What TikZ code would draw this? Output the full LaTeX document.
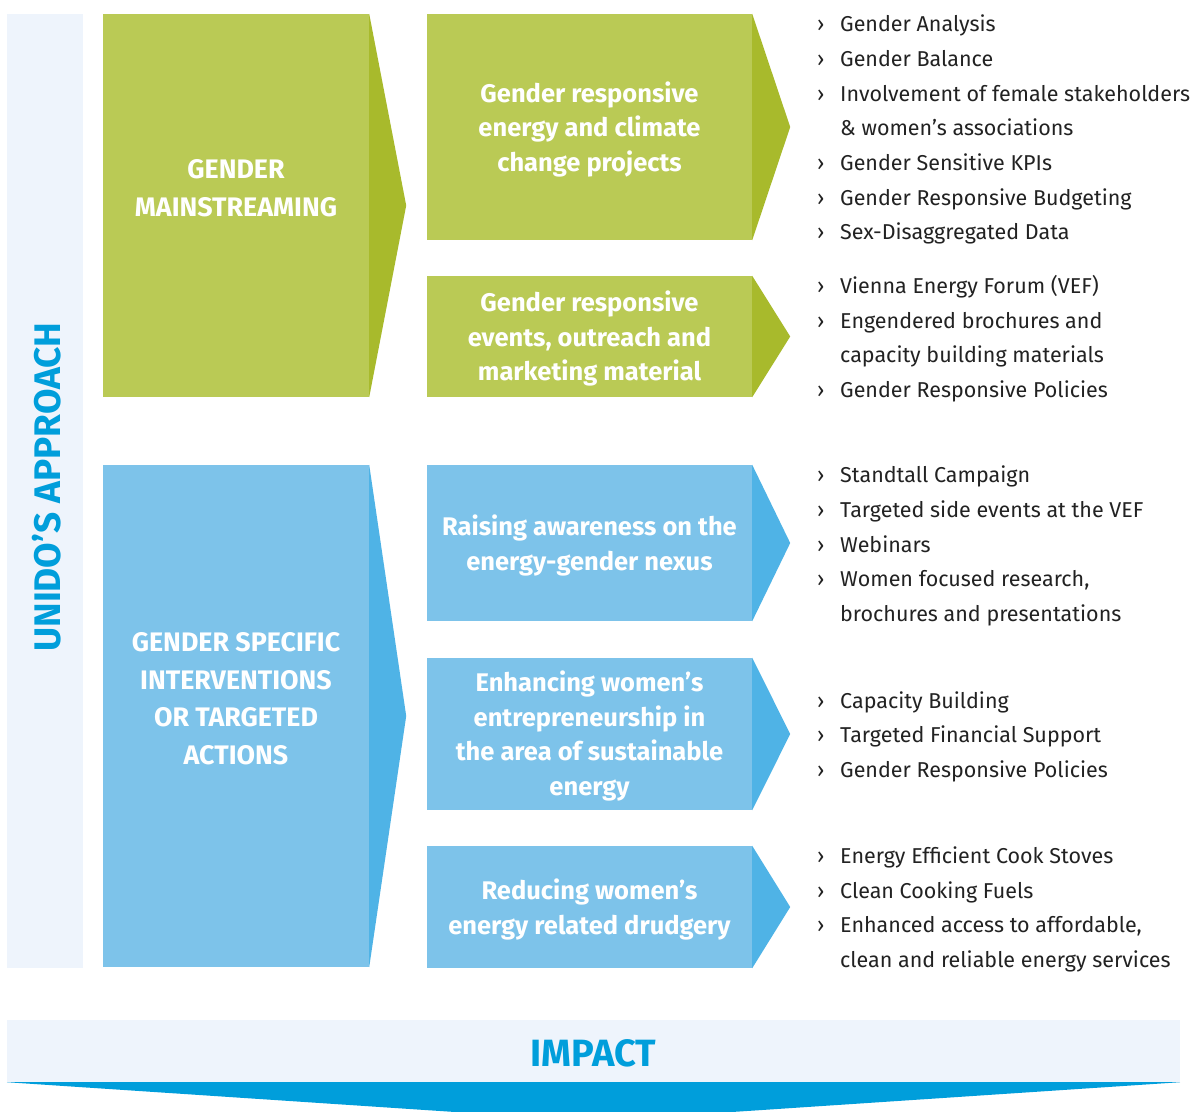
\documentclass[tikz,border=0pt]{standalone}
\usepackage{fontspec}
\setmainfont{Fira Sans}
\definecolor{panelbg}{HTML}{EEF4FC}
\definecolor{gbox}{HTML}{BACA55}
\definecolor{gtri}{HTML}{A8BA2C}
\definecolor{bbox}{HTML}{7DC3EA}
\definecolor{btri}{HTML}{4FB3E6}
\definecolor{unblue}{HTML}{009EDB}
\definecolor{txtgray}{HTML}{222222}
\tikzset{
  panelbox/.style={fill=panelbg, draw=none, inner sep=0},
  gbx/.style={fill=gbox, draw=none, inner sep=0},
  bbx/.style={fill=bbox, draw=none, inner sep=0},
  boxtxt/.style={font=\bfseries\fontsize{25.5}{34.5}\selectfont, text=white, align=center, inner sep=0},
  bigtxt/.style={font=\bfseries\fontsize{26.8}{37.5}\selectfont, text=white, align=center, inner sep=0},
  listtxt/.style={font=\fontsize{21.5}{25}\selectfont, text=txtgray, inner sep=0, anchor=base west},
  titletxt/.style={font=\bfseries\fontsize{37}{40}\selectfont, text=unblue, inner sep=0},
}
\begin{document}
\begin{tikzpicture}[x=1pt,y=-1pt]
\useasboundingbox (0,0) rectangle (1190,1111);
\clip (0,0) rectangle (1190,1111);
\fill[white] (0,0) rectangle (1190,1111);

% left panel
\node[panelbox, minimum width=76pt, minimum height=954pt] (panel) at (45,491) {};
\node[titletxt, rotate=90] (unido) at (46.5,487) {UNIDO’S APPROACH};

% big boxes
\node[gbx, minimum width=266pt, minimum height=383pt] (gm) at (236,205.5) {};
\fill[gtri] (gm.north east) -- ([xshift=37pt]gm.east) -- (gm.south east) -- cycle;
\node[bigtxt] (gmt) at (236,188) {GENDER\\MAINSTREAMING};

\node[bbx, minimum width=266pt, minimum height=502pt] (bs) at (236,716) {};
\fill[btri] (bs.north east) -- ([xshift=37pt]bs.east) -- (bs.south east) -- cycle;
\node[bigtxt] (bst) at (236,698.5) {GENDER SPECIFIC\\INTERVENTIONS\\OR TARGETED\\ACTIONS};

% small boxes
\node[gbx, minimum width=325pt, minimum height=226pt] (g1) at (589.5,127) {};
\fill[gtri] (g1.north east) -- ([xshift=38pt]g1.east) -- (g1.south east) -- cycle;
\node[boxtxt] (g1t) at (589.5,129) {Gender responsive\\energy and climate\\change projects};

\node[gbx, minimum width=325pt, minimum height=121pt] (g2) at (589.5,336.5) {};
\fill[gtri] (g2.north east) -- ([xshift=38pt]g2.east) -- (g2.south east) -- cycle;
\node[boxtxt] (g2t) at (589.5,338.5) {Gender responsive\\events, outreach and\\marketing material};

\node[bbx, minimum width=325pt, minimum height=156pt] (b1) at (589.5,543) {};
\fill[btri] (b1.north east) -- ([xshift=38pt]b1.east) -- (b1.south east) -- cycle;
\node[boxtxt] (b1t) at (589.5,545.5) {Raising awareness on the\\energy-gender nexus};

\node[bbx, minimum width=325pt, minimum height=152pt] (b2) at (589.5,734) {};
\fill[btri] (b2.north east) -- ([xshift=38pt]b2.east) -- (b2.south east) -- cycle;
\node[boxtxt] (b2t) at (589.5,736) {Enhancing women’s\\entrepreneurship in\\the area of sustainable\\energy};

\node[bbx, minimum width=325pt, minimum height=122pt] (b3) at (589.5,907) {};
\fill[btri] (b3.north east) -- ([xshift=38pt]b3.east) -- (b3.south east) -- cycle;
\node[boxtxt] (b3t) at (589.5,909.5) {Reducing women’s\\energy related drudgery};

% lists
\foreach \y/\b/\t [count=\i] in {
  31/1/{Gender Analysis},
  66/1/{Gender Balance},
  101/1/{Involvement of female stakeholders},
  135/0/{\& women’s associations},
  170/1/{Gender Sensitive KPIs},
  205/1/{Gender Responsive Budgeting},
  239/1/{Sex-Disaggregated Data},
  293/1/{Vienna Energy Forum (VEF)},
  328/1/{Engendered brochures and},
  362/0/{capacity building materials},
  397/1/{Gender Responsive Policies},
  482/1/{Standtall Campaign},
  517/1/{Targeted side events at the VEF},
  552/1/{Webinars},
  586/1/{Women focused research,},
  621/0/{brochures and presentations},
  708/1/{Capacity Building},
  742/1/{Targeted Financial Support},
  777/1/{Gender Responsive Policies},
  863/1/{Energy Efficient Cook Stoves},
  898/1/{Clean Cooking Fuels},
  932/1/{Enhanced access to affordable,},
  967/0/{clean and reliable energy services}} {
  \node[listtxt] (item\i) at (840,\y) {\t};
  \ifnum\b=1
    \node[listtxt] (bul\i) at (817,\y) {›};
  \fi
}

% impact
\node[panelbox, minimum width=1173pt, minimum height=62pt] (impact) at (593.5,1051) {};
\fill[unblue] (impact.south west) -- (impact.south east) -- ([yshift=-39pt]impact.south) -- cycle;
\node[font=\bfseries\fontsize{38}{40}\selectfont, text=unblue, inner sep=0] (impt) at (593.5,1053) {IMPACT};
\end{tikzpicture}
\end{document}
